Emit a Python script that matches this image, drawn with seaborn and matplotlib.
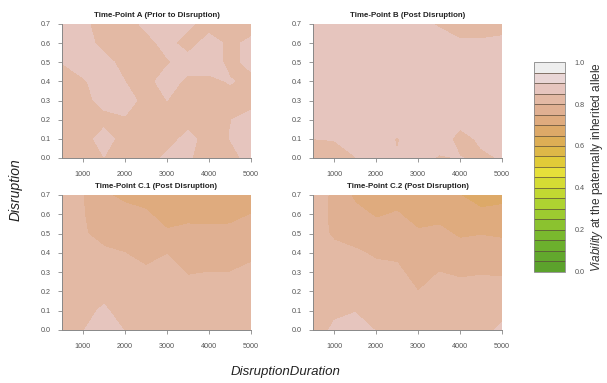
import numpy as np
import matplotlib
matplotlib.use("Agg")
import matplotlib.pyplot as plt
from matplotlib.colors import ListedColormap, BoundaryNorm
import seaborn as sns

# Grid: disruption duration (x) and disruption level (y)
durations = [500, 1000, 1500, 2000, 2500, 3000, 3500, 4000, 4500, 5000]
disruption = [0.0, 0.1, 0.2, 0.3, 0.4, 0.5, 0.6, 0.7]

# Viability at the paternally inherited allele; one row per disruption level
viability_a = [
    [0.830, 0.830, 0.849, 0.830, 0.830, 0.860, 0.855, 0.830, 0.830, 0.870],
    [0.830, 0.830, 0.870, 0.830, 0.830, 0.830, 0.865, 0.830, 0.851, 0.870],
    [0.830, 0.830, 0.835, 0.845, 0.850, 0.830, 0.830, 0.830, 0.849, 0.860],
    [0.830, 0.835, 0.865, 0.870, 0.835, 0.850, 0.830, 0.830, 0.835, 0.840],
    [0.830, 0.845, 0.870, 0.850, 0.835, 0.870, 0.840, 0.840, 0.853, 0.840],
    [0.851, 0.870, 0.865, 0.835, 0.830, 0.845, 0.870, 0.870, 0.840, 0.860],
    [0.870, 0.870, 0.835, 0.830, 0.835, 0.865, 0.830, 0.870, 0.840, 0.860],
    [0.870, 0.860, 0.830, 0.830, 0.860, 0.870, 0.860, 0.830, 0.830, 0.830],
]
viability_b = [
    [0.840, 0.840, 0.849, 0.860, 0.852, 0.860, 0.847, 0.851, 0.845, 0.852],
    [0.8499, 0.851, 0.860, 0.870, 0.847, 0.870, 0.865, 0.840, 0.855, 0.860],
    [0.865, 0.870, 0.872, 0.870, 0.870, 0.870, 0.868, 0.860, 0.865, 0.870],
    [0.870, 0.872, 0.875, 0.872, 0.870, 0.870, 0.870, 0.868, 0.870, 0.870],
    [0.872, 0.875, 0.875, 0.872, 0.870, 0.870, 0.870, 0.868, 0.865, 0.865],
    [0.872, 0.875, 0.872, 0.870, 0.870, 0.868, 0.865, 0.862, 0.860, 0.860],
    [0.870, 0.872, 0.870, 0.868, 0.865, 0.862, 0.858, 0.853, 0.853, 0.855],
    [0.868, 0.870, 0.868, 0.865, 0.860, 0.855, 0.848, 0.840, 0.840, 0.842],
]
viability_c1 = [
    [0.830, 0.848, 0.875, 0.848, 0.835, 0.835, 0.830, 0.830, 0.830, 0.835],
    [0.830, 0.840, 0.855, 0.835, 0.825, 0.830, 0.825, 0.825, 0.825, 0.830],
    [0.830, 0.830, 0.840, 0.825, 0.815, 0.820, 0.810, 0.812, 0.812, 0.820],
    [0.825, 0.820, 0.825, 0.812, 0.805, 0.810, 0.798, 0.800, 0.800, 0.805],
    [0.820, 0.812, 0.805, 0.800, 0.790, 0.799, 0.785, 0.785, 0.785, 0.795],
    [0.820, 0.803, 0.790, 0.785, 0.775, 0.755, 0.760, 0.758, 0.760, 0.775],
    [0.815, 0.802, 0.775, 0.765, 0.755, 0.735, 0.740, 0.740, 0.740, 0.750],
    [0.815, 0.801, 0.755, 0.740, 0.735, 0.720, 0.720, 0.720, 0.720, 0.735],
]
viability_c2 = [
    [0.835, 0.855, 0.860, 0.849, 0.840, 0.835, 0.840, 0.840, 0.845, 0.853],
    [0.830, 0.845, 0.849, 0.835, 0.830, 0.820, 0.830, 0.830, 0.830, 0.845],
    [0.830, 0.835, 0.835, 0.820, 0.815, 0.800, 0.815, 0.812, 0.815, 0.815],
    [0.825, 0.825, 0.820, 0.810, 0.805, 0.790, 0.800, 0.795, 0.797, 0.795],
    [0.820, 0.810, 0.805, 0.795, 0.795, 0.775, 0.780, 0.765, 0.770, 0.765],
    [0.815, 0.795, 0.785, 0.770, 0.775, 0.755, 0.758, 0.745, 0.748, 0.745],
    [0.820, 0.790, 0.765, 0.745, 0.753, 0.735, 0.740, 0.725, 0.705, 0.715],
    [0.825, 0.790, 0.740, 0.730, 0.735, 0.710, 0.715, 0.700, 0.690, 0.685],
]

panel_titles = [
    "Time-Point A (Prior to Disruption)",
    "Time-Point B (Post Disruption)",
    "Time-Point C.1 (Post Disruption)",
    "Time-Point C.2 (Post Disruption)",
]
panel_values = [viability_a, viability_b, viability_c1, viability_c2]

# Terrain-like key, one colour per 0.05 band from 0.0 to 1.0
level_colors = [
    "#5ca22c", "#62a82d", "#6cb02d", "#7ab92e", "#8bc22f",
    "#9dcb30", "#aed331", "#c2d832", "#d5dc34", "#e6e03a",
    "#e1cb38", "#deb848", "#ddae55", "#dda968", "#dfab7e",
    "#e0b092", "#e3b9a4", "#e6c5be", "#e9d6d6", "#eeeeee",
]
levels = np.round(np.arange(0, 1.0001, 0.05), 2)

sns.set_theme(style="ticks")
plt.rcParams["font.family"] = ["Liberation Sans", "DejaVu Sans"]
plt.rcParams["mathtext.fontset"] = "custom"
plt.rcParams["mathtext.rm"] = "Liberation Sans"
plt.rcParams["mathtext.it"] = "Liberation Sans:italic"

cmap = ListedColormap(level_colors)
norm = BoundaryNorm(levels, cmap.N)

fig = plt.figure(figsize=(6.07, 3.83), dpi=100)
positions = [
    [0.102, 0.5875, 0.3115, 0.3499],
    [0.5157, 0.5875, 0.3115, 0.3499],
    [0.102, 0.1384, 0.3115, 0.3525],
    [0.5157, 0.1384, 0.3115, 0.3525],
]

X, Y = np.meshgrid(durations, disruption)
tick_grey = "#555555"
cs = None
for pos, title, vals in zip(positions, panel_titles, panel_values):
    ax = fig.add_axes(pos)
    cs = ax.contourf(X, Y, np.array(vals), levels=levels, cmap=cmap, norm=norm)
    ax.set_xlim(durations[0], durations[-1])
    ax.set_ylim(disruption[0], disruption[-1])
    ax.set_xticks([1000, 2000, 3000, 4000, 5000])
    ax.set_yticks(disruption)
    ax.set_yticklabels([f"{v:.1f}" for v in disruption])
    ax.tick_params(axis="both", labelsize=5.2, colors="#888888", labelcolor=tick_grey,
                   length=3, width=0.6, pad=5)
    ax.tick_params(axis="x", pad=6.5)
    sns.despine(ax=ax)
    for side in ("left", "bottom"):
        ax.spines[side].set_color("#888888")
        ax.spines[side].set_linewidth(0.7)
    ax.set_title(title, fontsize=5.7, fontweight="bold", color="#222222", pad=5)

cax = fig.add_axes([0.8797, 0.29, 0.051, 0.548])
cb = fig.colorbar(cs, cax=cax, drawedges=True)
cb.dividers.set_color("#5a4a3a")
cb.dividers.set_linewidth(0.5)
cb.outline.set_edgecolor("#888888")
cb.outline.set_linewidth(0.6)
cb.set_ticks([0.0, 0.2, 0.4, 0.6, 0.8, 1.0])
cb.ax.minorticks_off()
cb.ax.tick_params(which="both", labelsize=5.2, labelcolor=tick_grey, length=0, pad=7)
cb.set_label(r"$\it{Viability}$ at the paternally inherited allele",
             fontsize=8.6, color="#333333", labelpad=3)

fig.text(0.025, 0.504, "Disruption", rotation=90, fontsize=10, style="italic",
         color="#222222", ha="center", va="center")
fig.text(0.47, 0.028, "DisruptionDuration", fontsize=9.5, style="italic",
         color="#222222", ha="center", va="center")

fig.savefig("out.png", dpi=100)
